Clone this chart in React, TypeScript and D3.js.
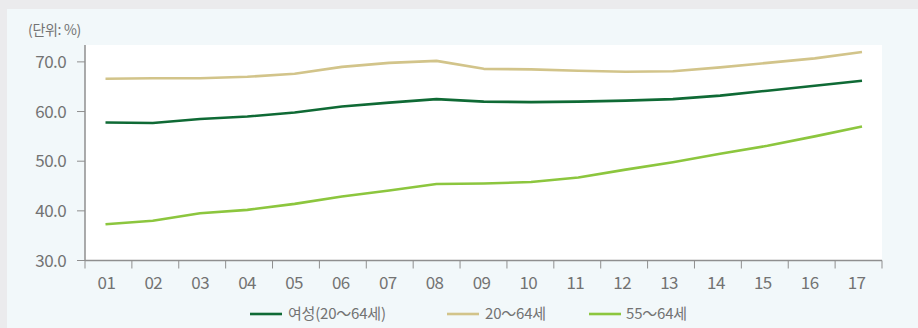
import React from "react";
import * as d3 from "d3";

// 연도 (2001–2017)
const years = ["01", "02", "03", "04", "05", "06", "07", "08", "09", "10", "11", "12", "13", "14", "15", "16", "17"];

// 고용률 (%)
const women2064 = [57.8, 57.7, 58.5, 59.0, 59.8, 61.0, 61.8, 62.5, 62.0, 61.9, 62.0, 62.2, 62.5, 63.2, 64.2, 65.2, 66.2];
const total2064 = [66.6, 66.7, 66.7, 67.0, 67.6, 69.0, 69.8, 70.2, 68.6, 68.5, 68.2, 68.0, 68.1, 68.9, 69.8, 70.7, 72.0];
const age5564 = [37.3, 38.0, 39.5, 40.2, 41.4, 42.9, 44.1, 45.4, 45.5, 45.8, 46.7, 48.3, 49.8, 51.5, 53.1, 55.0, 57.0];

const yTicks = [30, 40, 50, 60, 70];

const series = [
  { name: "여성(20～64세)", values: women2064, color: "#0f6a35" },
  { name: "20～64세", values: total2064, color: "#d2c48a" },
  { name: "55～64세", values: age5564, color: "#8cc63e" },
];

const W = 918;
const H = 328;
const FONT = "'Noto Sans CJK KR', 'Noto Sans', sans-serif";
const TEXT = "#737373";
const AXIS = "#8f8f8f";

export default function App() {
  const plot = { left: 85, right: 882, top: 45, bottom: 260.5 };

  const y = d3.scaleLinear().domain([30, 73.4]).range([plot.bottom, plot.top]);
  const xBand = d3.scaleBand<string>().domain(years).range([plot.left, plot.right]).padding(0);
  const xPt = d3.scalePoint<string>().domain(years).range([105.5, 862]);

  const line = (vals: number[]) =>
    d3.line<number>()
      .x((_, i) => xPt(years[i]) as number)
      .y((v) => y(v))(vals) as string;

  const legendItems = [
    { x: 250, textX: 288 },
    { x: 447, textX: 485 },
    { x: 589, textX: 626 },
  ];

  return (
    <svg
      width={W}
      height={H}
      style={{ position: "absolute", left: 0, top: 0, display: "block" }}
      fontFamily={FONT}
    >
      <rect x={0} y={0} width={W} height={H} fill="#ebebed" />
      <rect x={7} y={9} width={W - 7} height={H - 9} fill="#f2f8fa" />
      <rect
        x={plot.left}
        y={plot.top}
        width={plot.right - plot.left}
        height={plot.bottom - plot.top}
        fill="#ffffff"
      />

      <text x={28} y={30} dy="0.36em" fontSize={14} fill={TEXT} letterSpacing={-0.3}>
        (단위: %)
      </text>

      {/* y axis */}
      <line x1={plot.left} x2={plot.left} y1={plot.top} y2={plot.bottom} stroke={AXIS} strokeWidth={1.5} />
      {yTicks.map((t) => (
        <g key={t}>
          <line x1={plot.left - 8} x2={plot.left} y1={y(t)} y2={y(t)} stroke={AXIS} strokeWidth={1} />
          <text
            x={66}
            y={y(t)}
            dy="0.36em"
            textAnchor="end"
            fontSize={17}
            letterSpacing={-0.6}
            fill={TEXT}
          >
            {d3.format(".1f")(t)}
          </text>
        </g>
      ))}

      {/* x axis */}
      <line x1={plot.left} x2={plot.right} y1={plot.bottom} y2={plot.bottom} stroke={AXIS} strokeWidth={1.5} />
      <line x1={plot.left} x2={plot.left} y1={plot.bottom} y2={plot.bottom + 8} stroke={AXIS} strokeWidth={1} />
      {years.map((yr) => (
        <line
          key={"t" + yr}
          x1={(xBand(yr) as number) + xBand.bandwidth()}
          x2={(xBand(yr) as number) + xBand.bandwidth()}
          y1={plot.bottom}
          y2={plot.bottom + 8}
          stroke={AXIS}
          strokeWidth={1}
        />
      ))}
      {years.map((yr) => (
        <text
          key={"l" + yr}
          x={(xBand(yr) as number) + xBand.bandwidth() / 2 - 2}
          y={283}
          dy="0.36em"
          textAnchor="middle"
          fontSize={17}
          letterSpacing={-0.6}
          fill={TEXT}
        >
          {yr}
        </text>
      ))}

      {/* series */}
      {series.map((s) => (
        <path key={s.name} d={line(s.values)} fill="none" stroke={s.color} strokeWidth={2.6} strokeLinejoin="round" />
      ))}

      {/* legend */}
      {series.map((s, i) => (
        <g key={"lg" + s.name}>
          <line
            x1={legendItems[i].x}
            x2={legendItems[i].x + 32}
            y1={314}
            y2={314}
            stroke={s.color}
            strokeWidth={2.6}
          />
          <text
            x={legendItems[i].textX}
            y={314}
            dy="0.36em"
            fontSize={15}
            letterSpacing={-0.2}
            fill={TEXT}
          >
            {s.name}
          </text>
        </g>
      ))}
    </svg>
  );
}
